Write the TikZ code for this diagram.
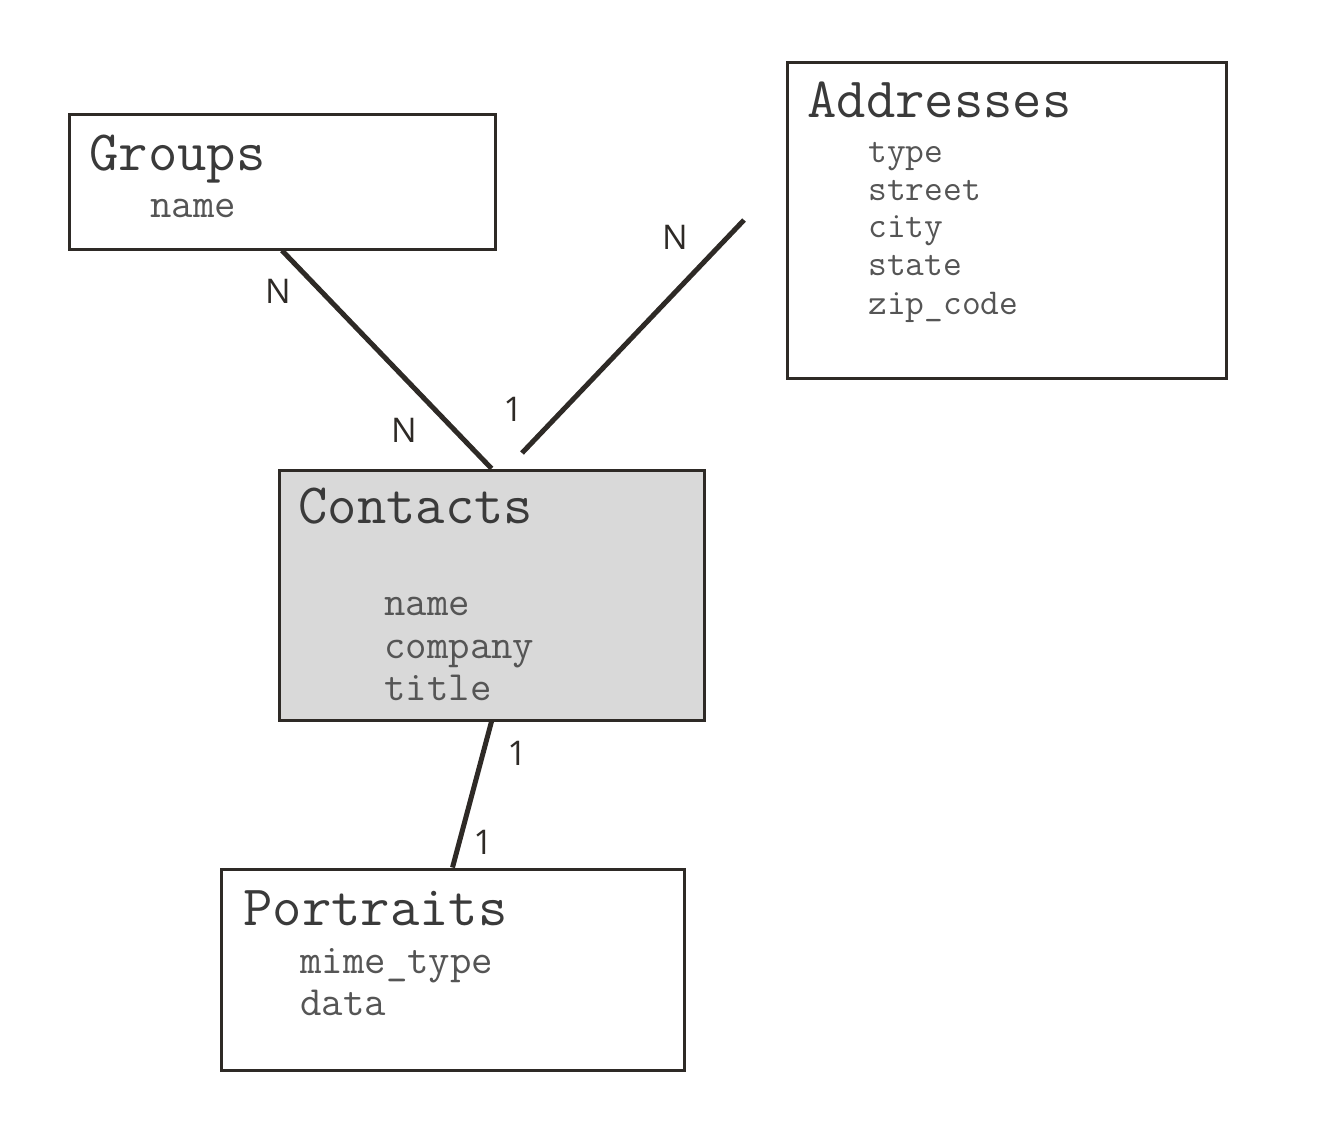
\documentclass[tikz,border=0pt]{standalone}
\usepackage{fontspec}
\newfontfamily\lblfont{Open Sans}
\definecolor{ink}{HTML}{2E2A26}
\definecolor{txtdark}{HTML}{3A3A3A}
\definecolor{txtlight}{HTML}{555555}
\definecolor{boxgray}{HTML}{D9D9D9}
\begin{document}
\begin{tikzpicture}[x=0.5pt,y=-0.5pt,
  entity/.style={draw=ink,line width=1.5pt,rectangle,inner sep=0pt},
  ttl/.style={anchor=base west,inner sep=0pt,font=\ttfamily\fontsize{28.5}{33}\selectfont,text=txtdark},
  fld/.style={anchor=base west,inner sep=0pt,font=\ttfamily\fontsize{20.8}{24}\selectfont,text=txtlight},
  fldsm/.style={anchor=base west,inner sep=0pt,font=\ttfamily\fontsize{18.2}{21}\selectfont,text=txtlight},
  rel/.style={draw=ink,line width=2.5pt},
  card/.style={inner sep=0pt,font=\lblfont\fontsize{17}{20}\selectfont,text=ink}]
\useasboundingbox (0,0) rectangle (1328,1132);
% boxes
\node[entity,minimum width=213pt,minimum height=67.5pt] (groups) at (282,181.5) {};
\node[entity,minimum width=219.5pt,minimum height=158pt] (addr) at (1006.5,220) {};
\node[entity,fill=boxgray,minimum width=212.5pt,minimum height=125pt] (contacts) at (491.5,595) {};
\node[entity,minimum width=231.5pt,minimum height=100.5pt] (portraits) at (452.5,969.5) {};
% texts
\node[ttl] (gT) at (89,170) {Groups};
\node[fld] (gF1) at (150,217) {name};
\node[ttl] (aT) at (807,117) {Addresses};
\node[fldsm] (aF1) at (868,162) {type};
\node[fldsm] (aF2) at (868,200) {street};
\node[fldsm] (aF3) at (868,237) {city};
\node[fldsm] (aF4) at (868,275) {state};
\node[fldsm] (aF5) at (868,314) {zip\_code};
\node[ttl] (cT) at (298,523) {Contacts};
\node[fld] (cF1) at (384,615) {name};
\node[fld] (cF2) at (384,658) {company};
\node[fld] (cF3) at (384,700) {title};
\node[ttl] (pT) at (243,925) {Portraits};
\node[fld] (pF1) at (300,973) {mime\_type};
\node[fld] (pF2) at (300,1015) {data};
% connectors
\coordinate (aEnd) at (744,220);
\coordinate (cEnd) at (522,453);
\draw[rel] (groups.south) -- (contacts.north);
\draw[rel] (aEnd) -- (cEnd);
\draw[rel] (contacts.south) -- (portraits.north);
% cardinalities
\node[card] (n1) at (278,291) {N};
\node[card] (n2) at (404,430) {N};
\node[card] (n3) at (675,237) {N};
\node[card] (o1) at (513,409) {1};
\node[card] (o2) at (517,753) {1};
\node[card] (o3) at (483,842) {1};
\end{tikzpicture}
\end{document}
